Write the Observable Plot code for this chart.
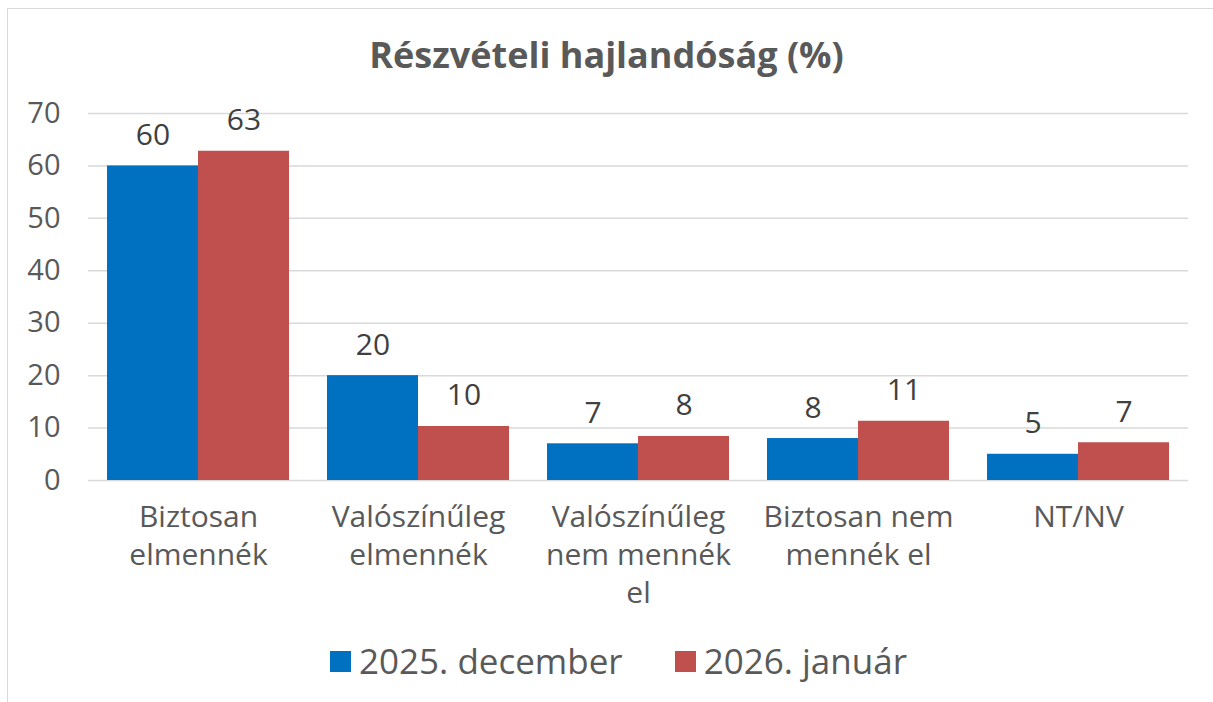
<!DOCTYPE html>
<html>
<head>
<meta charset="utf-8">
<script src="https://cdn.jsdelivr.net/npm/d3@7"></script>
<script src="https://cdn.jsdelivr.net/npm/@observablehq/plot@0.6"></script>
<style>
  html, body { margin: 0; padding: 0; background: #fff; }
  body { width: 1213px; height: 702px; position: relative; overflow: hidden; font-family: "Open Sans", sans-serif; }
  #frame { position: absolute; left: 7px; top: 8px; width: 1300px; height: 800px; border-left: 1.5px solid #d9d9d9; border-top: 1.5px solid #d9d9d9; }
  #title { position: absolute; left: 0; top: 30px; width: 1213px; text-align: center; font-weight: 700; font-size: 36px; color: #595959; line-height: 50px; }
  #chart { position: absolute; left: 0; top: 90px; }
  #legend { position: absolute; left: 12px; top: 639px; width: 1213px; display: flex; justify-content: center; align-items: center; font-size: 35px; color: #595959; line-height: 44px; }
  .item { display: flex; align-items: center; }
  .sw { width: 21px; height: 21px; margin-right: 8px; }
  .item + .item { margin-left: 52px; }
</style>
</head>
<body>
<div id="frame"></div>
<div id="title">Részvételi hajlandóság (%)</div>
<div id="chart"></div>
<div id="legend"></div>
<script>
const categories = ["Biztosan elmennék", "Valószínűleg elmennék", "Valószínűleg nem mennék el", "Biztosan nem mennék el", "NT/NV"];
const categoryLabels = ["Biztosan\nelmennék", "Valószínűleg\nelmennék", "Valószínűleg\nnem mennék\nel", "Biztosan nem\nmennék el", "NT/NV"];
const series = ["2025. december", "2026. január"];
const dec2025 = [60, 20, 7, 8, 5];
const jan2026 = [62.8, 10.3, 8.4, 11.3, 7.2];
const yTicks = [0, 10, 20, 30, 40, 50, 60, 70];
const colors = ["#0070C0", "#C0504D"];

const data = categories.flatMap((c, i) => [
  {cat: c, series: series[0], value: dec2025[i]},
  {cat: c, series: series[1], value: jan2026[i]}
]);

const chart = Plot.plot({
  width: 1213,
  height: 540,
  marginLeft: 88,
  marginRight: 25,
  marginTop: 23,
  marginBottom: 150,
  style: {fontFamily: "'Open Sans', sans-serif", background: "transparent", overflow: "visible"},
  fx: {domain: categories, padding: 0, label: null, axis: null},
  x: {domain: series, paddingInner: 0, paddingOuter: 0.202, axis: null},
  y: {domain: [0, 70], axis: null},
  color: {domain: series, range: colors},
  marks: [
    Plot.ruleY(yTicks, {stroke: "#d9d9d9", strokeWidth: 1.5}),
    Plot.barY(data, {fx: "cat", x: "series", y: "value", fill: "series"}),
    Plot.text(data, {fx: "cat", x: "series", y: "value", text: d => d3.format(".0f")(d.value),
      lineAnchor: "bottom", dy: -21, fill: "#404040", fontSize: 30}),
    Plot.axisY(yTicks, {tickSize: 0, tickPadding: 28, fontSize: 29, fill: "#595959", label: null}),
    Plot.axisFx({anchor: "bottom", tickSize: 0, tickPadding: 19, fontSize: 30, lineHeight: 1.27,
      fill: "#595959", label: null, tickFormat: c => categoryLabels[categories.indexOf(c)]})
  ]
});
document.getElementById("chart").appendChild(chart);

const legend = document.getElementById("legend");
series.forEach((s, i) => {
  const item = document.createElement("div");
  item.className = "item";
  const sw = document.createElement("div");
  sw.className = "sw";
  sw.style.background = colors[i];
  const t = document.createElement("span");
  t.textContent = s;
  item.appendChild(sw);
  item.appendChild(t);
  legend.appendChild(item);
});
</script>
</body>
</html>
